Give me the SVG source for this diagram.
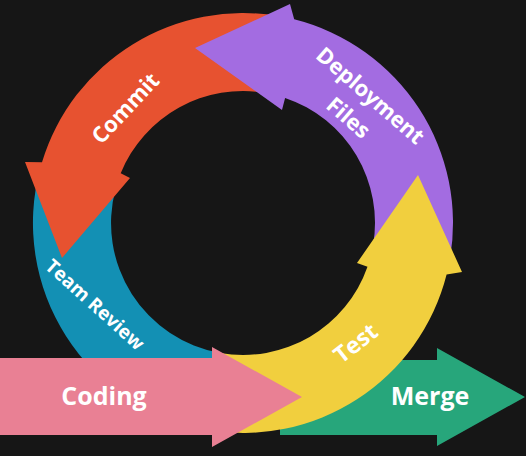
<svg xmlns="http://www.w3.org/2000/svg" width="526" height="456" viewBox="0 0 526 456">
<style>
.lbl{font-family:"Open Sans","DejaVu Sans",sans-serif;font-weight:700;fill:#ffffff;text-anchor:middle}
</style>
<rect width="526" height="456" fill="#161616"/>
<g id="merge">
<path d="M280 360 H437 V348 L525 397 L437 446 V435 H280 Z" fill="#27A67B"/>
<text class="lbl" x="430" y="405" font-size="25">Merge</text>
</g>
<g id="team-review">
<path d="M40 169 A210 210 0 0 0 206.5 429.8 L220.1 353 A132 132 0 0 1 115.5 189 Z" fill="#1390B4"/>
<text class="lbl" font-size="19" transform="translate(90.5 309.5) rotate(42)">Team Review</text>
</g>
<g id="commit">
<path d="M279.5 16.2 A210 210 0 0 0 42 162.3 L25 162 L62 258 L130 178 L120.7 173.3 A132 132 0 0 1 265.9 93 Z" fill="#E75230"/>
<text class="lbl" font-size="22" transform="translate(131 113.5) rotate(-47)">Commit</text>
</g>
<g id="deployment-files">
<path d="M449.8 259.5 A210 210 0 0 0 294.2 19.3 L290 4 L195 48 L282 110 L285.1 97.9 A132 132 0 0 1 373 245.9 Z" fill="#A36CE1"/>
<text class="lbl" font-size="22" transform="translate(365.4 101.4) rotate(41)">Deployment</text>
<text class="lbl" font-size="22" transform="translate(343.4 123.4) rotate(41)">Files</text>
</g>
<g id="test">
<path d="M206.5 429.8 A210 210 0 0 0 446.6 274.5 L462 272 L418 175 L357 263 L367.5 266.8 A132 132 0 0 1 220.1 353 Z" fill="#F1CF3E"/>
<text class="lbl" font-size="23" transform="translate(360.5 349.5) rotate(-38)">Test</text>
</g>
<g id="coding">
<path d="M0 358 H212 V347 L302 397 L212 447 V435 H0 Z" fill="#E98094"/>
<text class="lbl" x="104" y="405" font-size="25">Coding</text>
</g>
<g id="connectors"/>
</svg>
